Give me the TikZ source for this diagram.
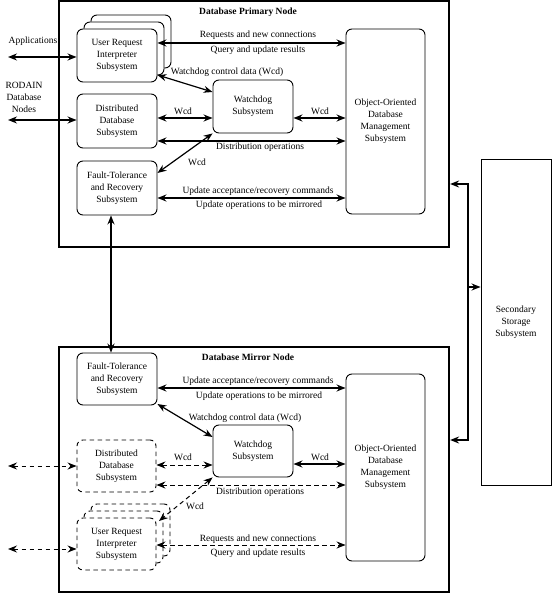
\documentclass[tikz,border=0pt]{standalone}
\usepackage{fontspec}
\setmainfont{Liberation Serif}
\usetikzlibrary{arrows.meta}
\begin{document}
\begin{tikzpicture}[x=1pt,y=-1pt,
  font=\fontsize{9.5pt}{12pt}\selectfont,
  box/.style={draw, line width=0.9pt, rounded corners=6pt, align=center, inner sep=0pt, fill=white},
  dbox/.style={box, dash pattern=on 4.5pt off 3.5pt},
  outer/.style={draw, line width=2.2pt, inner sep=0pt},
  tip/.tip={Stealth[length=9pt,width=7pt,inset=3pt]},
  arr/.style={line width=1.8pt, tip-tip},
  darr/.style={line width=1pt, dash pattern=on 4.5pt off 3.5pt, tip-tip},
  lbl/.style={inner sep=0pt, align=center},
  ttl/.style={inner sep=0pt, font=\fontsize{9.5pt}{12pt}\selectfont\bfseries}
]
\useasboundingbox (0,0) rectangle (552,593);

% ---------- outer boxes ----------
\node[outer, minimum width=390pt, minimum height=246pt] (prim) at (254,124) {};
\node[outer, minimum width=390pt, minimum height=245pt] (mir) at (254,469.5) {};
\node[draw, line width=0.9pt, inner sep=0pt, minimum width=70pt, minimum height=326pt, align=center] (sec) at (516,322) {Secondary\\Storage\\Subsystem};

\node[ttl] (ptitle) at (248,12) {Database Primary Node};
\node[ttl] (mtitle) at (248,357) {Database Mirror Node};

% ---------- primary node ----------
\node[box, minimum width=80pt, minimum height=53pt] (puri3) at (131,41.5) {};
\node[box, minimum width=80pt, minimum height=53pt] (puri2) at (124,48.5) {};
\node[box, minimum width=80pt, minimum height=53pt] (puri) at (117,55.5) {User Request\\Interpreter\\Subsystem};
\node[box, minimum width=80pt, minimum height=54pt] (pdds) at (117,121) {Distributed\\Database\\Subsystem};
\node[box, minimum width=80pt, minimum height=54pt] (pftr) at (117,188) {Fault-Tolerance\\and Recovery\\Subsystem};
\node[box, minimum width=80pt, minimum height=53pt] (pwd) at (253,106.5) {Watchdog\\Subsystem};
\node[box, minimum width=79pt, minimum height=185pt] (poo) at (385.5,121.5) {Object-Oriented\\Database\\Management\\Subsystem};

\coordinate (papp) at (8,57);
\coordinate (prod) at (8,120);
\node[lbl] (lapp) at (33,41) {Applications};
\node[lbl] (lrod) at (24,97) {RODAIN\\Database\\Nodes};

\draw[arr] (papp) -- (puri.west |- papp);
\draw[arr] (prod) -- (pdds.west |- prod);
\draw[arr] (puri.east |- 0,43) -- (poo.west |- 0,43);
\draw[arr, line width=1.2pt] (puri.east |- 0,75) -- (pwd.west |- 0,92);
\draw[arr] (pdds.east |- 0,118) -- (pwd.west |- 0,118);
\draw[arr] (pwd.east |- 0,118) -- (poo.west |- 0,118);
\draw[arr] (pdds.east |- 0,141) -- (poo.west |- 0,141);
\draw[arr, line width=1.2pt] (pftr.east |- 0,173) -- (pwd.south west);
\draw[arr] (pftr.east |- 0,198) -- (poo.west |- 0,198);

\node[lbl] (l1) at (258,35) {Requests and new connections};
\node[lbl] (l2) at (258,50) {Query and update results};
\node[lbl] (l3) at (227,72) {Watchdog control data (Wcd)};
\node[lbl] (l4) at (183,111) {Wcd};
\node[lbl] (l5) at (320,111) {Wcd};
\node[lbl] (l6) at (260,147) {Distribution operations};
\node[lbl] (l7) at (197,162) {Wcd};
\node[lbl] (l8) at (258,191) {Update acceptance/recovery commands};
\node[lbl] (l9) at (259,205) {Update operations to be mirrored};

% ---------- mirror node ----------
\node[box, minimum width=80pt, minimum height=52pt] (mftr) at (117,379) {Fault-Tolerance\\and Recovery\\Subsystem};
\node[box, minimum width=80pt, minimum height=52pt] (mwd) at (253,451) {Watchdog\\Subsystem};
\node[dbox, minimum width=79pt, minimum height=52pt] (mdds) at (116.5,466) {Distributed\\Database\\Subsystem};
\node[dbox, minimum width=79pt, minimum height=52pt] (muri3) at (130.5,530) {};
\node[dbox, minimum width=79pt, minimum height=52pt] (muri2) at (123.5,537) {};
\node[dbox, minimum width=79pt, minimum height=52pt] (muri) at (116.5,544) {User Request\\Interpreter\\Subsystem};
\node[box, minimum width=79pt, minimum height=187pt] (moo) at (385.5,467.5) {Object-Oriented\\Database\\Management\\Subsystem};

\coordinate (mapp) at (8,466);
\coordinate (mrod) at (8,549);
\coordinate (murc) at (159,521);

\draw[arr] (pftr.south -| 111,0) -- (mftr.north -| 111,0);
\draw[arr] (mftr.east |- 0,388) -- (moo.west |- 0,388);
\draw[arr, line width=1.2pt] (mftr.east |- 0,404) -- (mwd.west |- 0,437);
\draw[darr] (mdds.east |- 0,465) -- (mwd.west |- 0,465);
\draw[arr] (mwd.east |- 0,464) -- (moo.west |- 0,464);
\draw[darr] (mdds.east |- 0,485) -- (moo.west |- 0,485);
\draw[darr] (mapp) -- (mdds.west |- mapp);
\draw[darr] (mrod) -- (muri.west |- mrod);
\draw[darr] (mwd.south west) -- (murc);
\draw[darr] (muri.east |- 0,545) -- (moo.west |- 0,545);

\node[lbl] (m8) at (258,381) {Update acceptance/recovery commands};
\node[lbl] (m9) at (259,396) {Update operations to be mirrored};
\node[lbl] (m3) at (245,418) {Watchdog control data (Wcd)};
\node[lbl] (m4) at (183,457) {Wcd};
\node[lbl] (m5) at (320,457) {Wcd};
\node[lbl] (m6) at (260,492) {Distribution operations};
\node[lbl] (m7) at (195,506) {Wcd};
\node[lbl] (m1) at (258,539) {Requests and new connections};
\node[lbl] (m2) at (258,553) {Query and update results};

% ---------- secondary storage link ----------
\coordinate (sk1) at (468,184);
\coordinate (sk2) at (468,440);
\coordinate (sk3) at (468,287);
\draw[arr] (prim.east |- sk1) -- (sk1) -- (sk2) -- (mir.east |- sk2);
\draw[line width=1.8pt, -tip] (sk3) -- (sec.west |- sk3);
\end{tikzpicture}
\end{document}
